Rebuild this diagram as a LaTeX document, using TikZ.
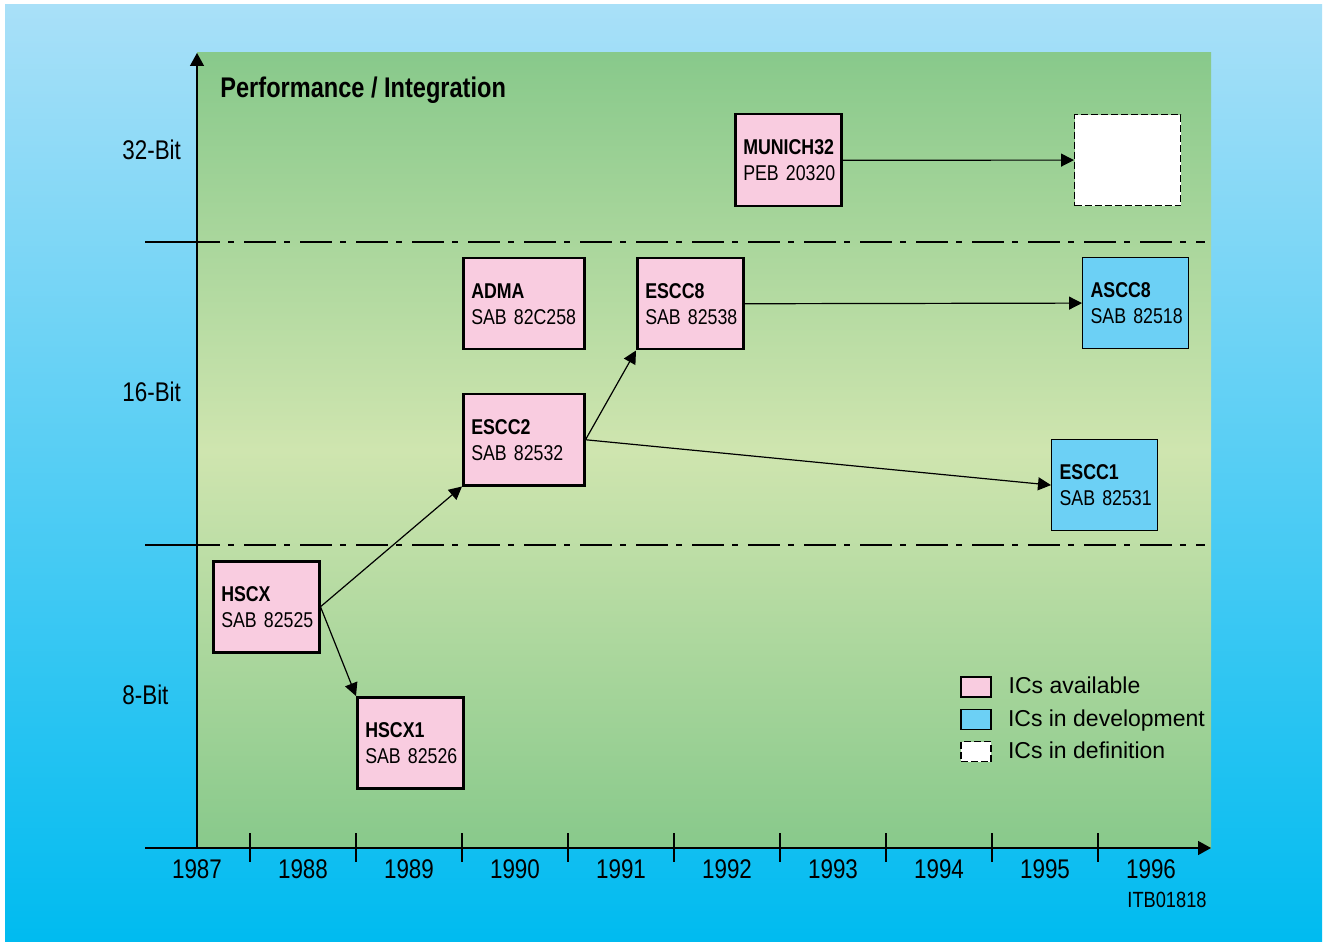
\documentclass[tikz,border=0pt]{standalone}
\usepackage{fontspec}
\setmainfont{Liberation Sans}[FakeStretch=0.83]
\newfontfamily\legendenschrift{Liberation Sans}
\usepackage{xcolor}
\usepackage{tikz}
\usetikzlibrary{arrows.meta,positioning}
\definecolor{chipRosa}{HTML}{F9CCE0}
\definecolor{chipBlau}{HTML}{6CD0F5}
\definecolor{himmelOben}{HTML}{A9E0F8}
\definecolor{himmelUnten}{HTML}{00BBF0}
\definecolor{gruenRand}{HTML}{88C98B}
\definecolor{gruenMitte}{HTML}{CFE5AF}
\tikzset{
    chip/.style={
        rectangle,
        draw,
        anchor=north west,
        align=left,
        line width=1.25pt,
        fill=chipRosa,
        minimum width=53pt,
        minimum height=45.5pt,
        text width=45pt,
        inner xsep=4pt,
        font=\fontsize{10.7}{13}\selectfont
    },
    breit/.style={minimum width=60.5pt, text width=52.5pt},
    entwicklung/.style={chip, fill=chipBlau, line width=0.6pt},
    definition/.style={chip, fill=white, line width=0.6pt, dash pattern=on 3.5pt off 1.5pt},
    pfeil/.style={-{Triangle[length=6.5pt,width=6.5pt]}, line width=0.6pt},
    achse/.style={line width=0.7pt},
    grenze/.style={line width=0.6pt},
    achsentext/.style={font=\fontsize{13.5}{16}\selectfont, inner sep=0pt},
    legende/.style={rectangle, draw, minimum width=15pt, minimum height=10pt, inner sep=0pt},
    legendentext/.style={font=\legendenschrift\fontsize{11.5}{13}\selectfont, inner sep=0pt, text height=8.5pt, text depth=2pt}
}

\begin{document}
\begin{tikzpicture}[x=0.5pt, y=-0.5pt]
    \useasboundingbox (0,0) rectangle (1327,946);
    % hintergrund
    \shade[top color=himmelOben, bottom color=himmelUnten] (5,5) rectangle (1322,941);
    \shade[top color=gruenRand, bottom color=gruenRand, middle color=gruenMitte] (197,53) rectangle (1211,848);

    % achsen
    \coordinate (ursprung) at (197,848);
    \coordinate (yspitze) at (197,53);
    \coordinate (xanfang) at (145,848);
    \coordinate (xspitze) at (1211,848);
    \draw[achse, -{Triangle[length=6.5pt,width=7pt]}] (ursprung) -- (yspitze);
    \draw[achse, -{Triangle[length=6.5pt,width=7pt]}] (xanfang) -- (xspitze);
    \foreach \i in {0,...,8}
        \draw[achse] (250+106*\i,833) -- ++(0,29);
    \foreach \jahr [count=\i from 0] in {1987,...,1996}
        \node[achsentext] (j\jahr) at (197+106*\i,869) {\jahr};

    % grenzen 8/16/32 bit
    \foreach \y in {242,545} {
        \draw[grenze] (145,\y) -- (220,\y);
        \draw[grenze, dash pattern=on 16pt off 4pt on 3pt off 5pt, dash phase=16pt] (220,\y) -- (1205,\y);
    }
    \node[achsentext, anchor=west] (bit32) at (122,150) {32-Bit};
    \node[achsentext, anchor=west] (bit16) at (122,392) {16-Bit};
    \node[achsentext, anchor=west] (bit8) at (122,695) {8-Bit};
    \node[achsentext, anchor=west, font=\fontsize{14.2}{16}\selectfont\bfseries] (titel) at (220,90) {Performance / Integration};

    % bausteine
    \node[chip] (hscx) at (212,560) {\textbf{HSCX}\\SAB~82525};
    \node[chip] (hscxeins) at (356,696) {\textbf{HSCX1}\\SAB~82526};
    \node[chip, breit] (escczwei) at (462,393) {\textbf{ESCC2}\\SAB~82532};
    \node[chip, breit] (adma) at (462,257) {\textbf{ADMA}\\SAB~82C258};
    \node[chip] (esccacht) at (636,257) {\textbf{ESCC8}\\SAB~82538};
    \node[chip, minimum height=46pt] (munich) at (734,113) {\textbf{MUNICH32}\\PEB~20320};
    \node[definition] (offen) at (1074,114) {};
    \node[entwicklung] (asccacht) at (1082,257) {\textbf{ASCC8}\\SAB~82518};
    \node[entwicklung] (esccein) at (1051,439) {\textbf{ESCC1}\\SAB~82531};

    \draw[pfeil] (hscx.east) -- (escczwei.south west);
    \draw[pfeil] (hscx.east) -- (hscxeins.north west);
    \draw[pfeil] (escczwei.east) -- (esccacht.south west);
    \draw[pfeil] (escczwei.east) -- (esccein.west);
    \draw[pfeil] (esccacht.east) -- (asccacht.west);
    \draw[pfeil] (munich.east) -- (offen.west);

    % legende
    \node[legende, fill=chipRosa, line width=1.25pt] (legVerf) at (976,687) {};
    \node[legende, fill=chipBlau, line width=0.6pt] (legEntw) at (976,719.5) {};
    \node[legende, fill=white, line width=0.6pt, dash pattern=on 3.5pt off 1.5pt] (legDef) at (976,751.5) {};
    \node[legendentext, right=8pt of legVerf] (txtVerf) {ICs available};
    \node[legendentext, right=8pt of legEntw] (txtEntw) {ICs in development};
    \node[legendentext, right=8pt of legDef] (txtDef) {ICs in definition};

    \node[inner sep=0pt, anchor=east, font=\fontsize{11}{13}\selectfont] (itb) at (1207,900) {ITB01818};
\end{tikzpicture}
\end{document}
